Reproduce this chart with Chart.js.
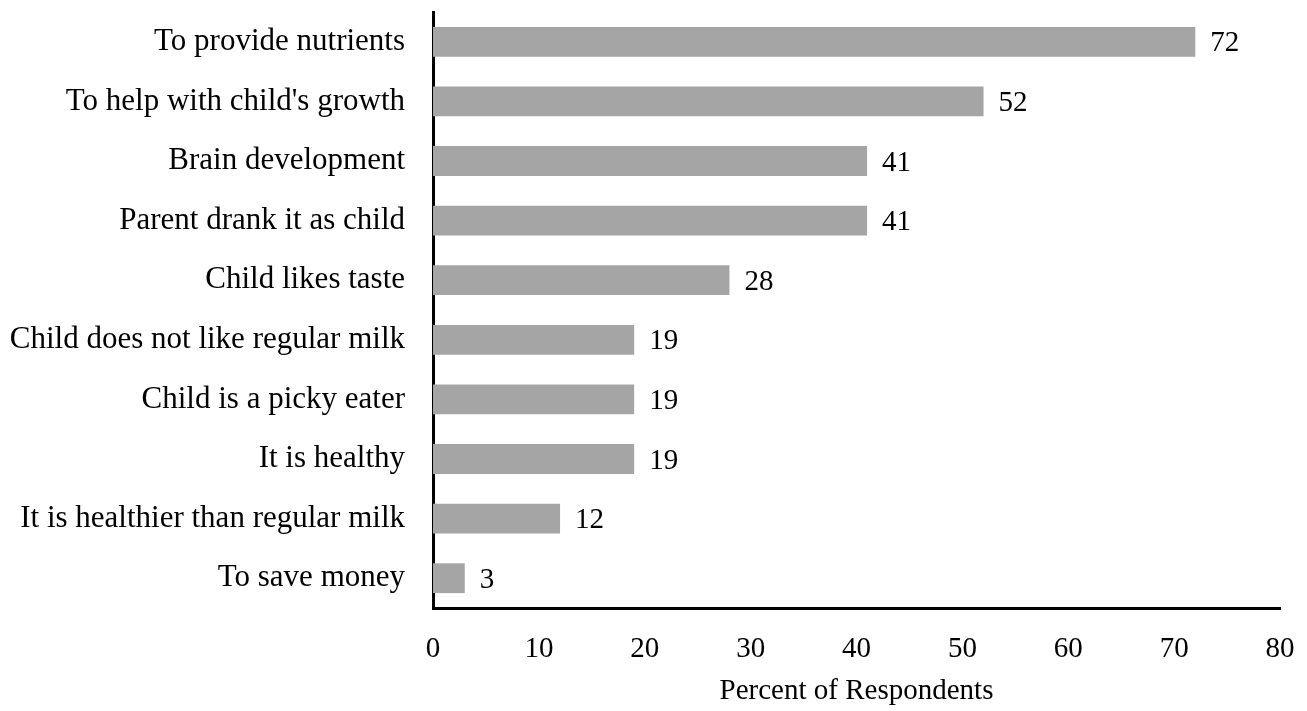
<!DOCTYPE html>
<html lang="en">
<head>
    <meta charset="UTF-8">
    <style>
        body { margin: 0; background: #fff; }
    </style>
</head>
<body>
    <canvas id="barChart" width="1307" height="711"></canvas>

    <script src="https://cdn.jsdelivr.net/npm/chart.js"></script>
    <script>
        const reasons = [
            "To provide nutrients",
            "To help with child's growth",
            "Brain development",
            "Parent drank it as child",
            "Child likes taste",
            "Child does not like regular milk",
            "Child is a picky eater",
            "It is healthy",
            "It is healthier than regular milk",
            "To save money"
        ];
        const percents = [72, 52, 41, 41, 28, 19, 19, 19, 12, 3];
        const xTicks = [0, 10, 20, 30, 40, 50, 60, 70, 80];

        const font = "'Liberation Serif', 'Times New Roman', serif";

        // value labels at the end of each bar
        const valueLabels = {
            id: "valueLabels",
            afterDatasetsDraw(chart) {
                const ctx = chart.ctx;
                const meta = chart.getDatasetMeta(0);
                ctx.save();
                ctx.font = "29px " + font;
                ctx.fillStyle = "#000";
                ctx.textAlign = "left";
                ctx.textBaseline = "middle";
                meta.data.forEach((bar, i) => {
                    ctx.fillText(String(percents[i]), bar.x + 15, bar.y + 2);
                });
                ctx.restore();
            }
        };

        const config = {
            type: "bar",
            data: {
                labels: reasons,
                datasets: [{
                    data: percents,
                    backgroundColor: "#a5a5a5",
                    borderWidth: 0,
                    barPercentage: 0.5,
                    categoryPercentage: 1.0
                }]
            },
            options: {
                indexAxis: "y",
                responsive: false,
                animation: false,
                layout: {
                    padding: { top: 12, right: 27, left: 0, bottom: 0 }
                },
                plugins: {
                    legend: { display: false },
                    tooltip: { enabled: false }
                },
                scales: {
                    x: {
                        min: 0,
                        max: 80,
                        afterFit(scale) {
                            scale.height = 103;
                            scale.paddingLeft = 0;
                            scale.paddingRight = 0;
                        },
                        afterBuildTicks(scale) {
                            scale.ticks = xTicks.map(v => ({ value: v }));
                        },
                        grid: { display: false, drawTicks: false },
                        border: { display: true, color: "#000", width: 3 },
                        ticks: {
                            padding: 24,
                            color: "#000",
                            font: { family: font, size: 29 }
                        },
                        title: {
                            display: true,
                            text: "Percent of Respondents",
                            color: "#000",
                            font: { family: font, size: 29 },
                            padding: { top: 0, bottom: 2 }
                        }
                    },
                    y: {
                        afterFit(scale) {
                            scale.width = 433;
                            scale.paddingTop = 0;
                            scale.paddingBottom = 0;
                        },
                        grid: { display: false, drawTicks: false },
                        border: { display: true, color: "#000", width: 3 },
                        ticks: {
                            padding: 28,
                            color: "#000",
                            font: { family: font, size: 31 }
                        }
                    }
                }
            },
            plugins: [valueLabels]
        };

        const ctx = document.getElementById("barChart").getContext("2d");
        new Chart(ctx, config);
    </script>
</body>
</html>
